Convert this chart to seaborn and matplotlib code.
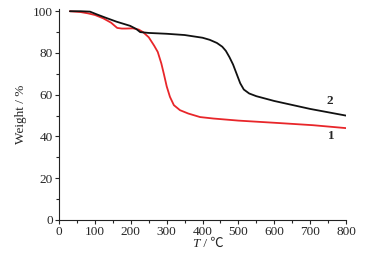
import numpy as np
import pandas as pd
import matplotlib
matplotlib.use("Agg")
import matplotlib.pyplot as plt
from matplotlib.ticker import MultipleLocator
import seaborn as sns

# ── Data ──────────────────────────────────────────────────────────────────────
t1 = [30, 60, 80, 100, 123, 145, 155, 162, 175, 185, 206, 222, 234, 250,
      265, 275, 285, 292, 300, 309, 320, 337, 360, 393, 430, 500, 616, 708, 800]
w1 = [100, 99.6, 99, 98.2, 96.6, 94.5, 93, 92, 91.7, 91.7, 91.8, 91.2, 90,
      87.5, 83.5, 80.5, 75, 70, 64, 59, 55, 52.6, 51, 49.3, 48.6, 47.6, 46.4,
      45.4, 44]

t2 = [30, 60, 86, 105, 128, 160, 198, 215, 226, 250, 300, 350, 400, 420,
      440, 455, 465, 475, 485, 495, 505, 515, 530, 550, 600, 700, 800]
w2 = [100, 100, 99.8, 98.5, 97, 95, 93, 91.5, 90, 89.6, 89.2, 88.6, 87.3,
      86.3, 84.8, 83, 81, 78, 74.5, 70, 65.5, 62.5, 60.6, 59.3, 57, 53.2, 50]

curve_labels = ["1", "2"]
label_pos_t = [758, 756]
label_pos_w = [40, 57]

df = pd.concat([
    pd.DataFrame({"T": t1, "W": w1, "sample": "1"}),
    pd.DataFrame({"T": t2, "W": w2, "sample": "2"}),
])

# ── Plot ──────────────────────────────────────────────────────────────────────
sns.set_style("ticks")
plt.rcParams["font.family"] = ["Liberation Serif", "Noto Sans CJK SC", "DejaVu Sans"]

fig = plt.figure(figsize=(3.84, 2.54), dpi=100)
ax = fig.add_axes([0.154, 0.134, 0.747, 0.83])

sns.lineplot(data=df, x="T", y="W", hue="sample", sort=False,
             palette={"1": "#e8262a", "2": "#111111"},
             linewidth=1.3, legend=False, ax=ax)

for lab, tx, wy in zip(curve_labels, label_pos_t, label_pos_w):
    ax.text(tx, wy, lab, fontsize=9.5, fontweight="bold",
            ha="center", va="center")

ax.set_xlim(0, 800)
ax.set_ylim(0, 101)
ax.xaxis.set_major_locator(MultipleLocator(100))
ax.xaxis.set_minor_locator(MultipleLocator(50))
ax.yaxis.set_major_locator(MultipleLocator(20))
ax.yaxis.set_minor_locator(MultipleLocator(10))
ax.tick_params(which="major", length=3, width=0.8, labelsize=9.5, pad=1.5)
ax.tick_params(which="minor", length=2, width=0.8)

# x label: italic T followed by " / ℃"
ax.text(0.49, -0.112, "T", style="italic", fontsize=9.5,
        ha="right", va="center", transform=ax.transAxes)
ax.text(0.49, -0.112, " / ℃", fontsize=9.5,
        ha="left", va="center", transform=ax.transAxes)
ax.set_xlabel("")
ax.set_ylabel("Weight / %", fontsize=9.5, labelpad=4)

sns.despine(ax=ax)
for s in ["left", "bottom"]:
    ax.spines[s].set_linewidth(0.8)
    ax.spines[s].set_color("#222222")

fig.savefig("out.png", dpi=100)
